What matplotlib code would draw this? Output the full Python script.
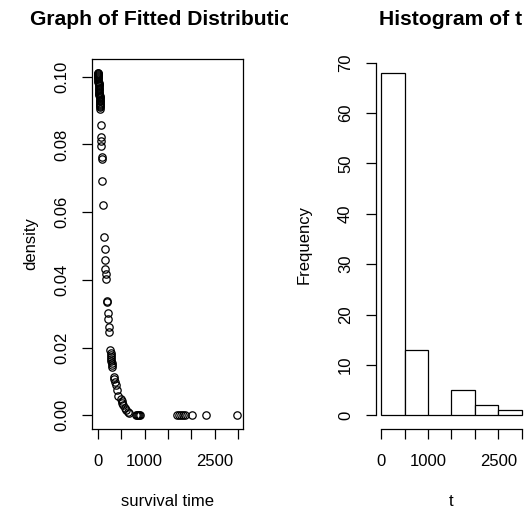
import numpy as np
import matplotlib
matplotlib.use("Agg")
import matplotlib.pyplot as plt
from matplotlib.transforms import Bbox, TransformedBbox

plt.rcParams.update({"font.family": ["Liberation Sans", "DejaVu Sans"],
                     "font.size": 12})

# survival times and fitted density
surv_t = [0, 2, 5, 6, 8, 11, 12, 14, 17, 18, 20, 22, 25, 26, 28, 31, 32,
          35, 37, 38, 40, 43, 44, 46, 48, 50, 51, 53, 54, 56, 57, 58, 60,
          64, 70, 73, 77, 84, 86, 100, 117, 140, 150, 160, 168, 173, 178,
          205, 207, 220, 228, 238, 245, 270, 276, 280, 285, 290, 293, 298,
          303, 310, 348, 355, 368, 385, 410, 445,
          505, 515, 524, 550, 582, 610, 639, 665, 820, 840, 860, 880, 905,
          1700, 1740, 1780, 1820, 1860, 2010, 2300, 2980]
dens = [0.1012, 0.1011, 0.1009, 0.1006, 0.1003, 0.0998, 0.0996, 0.0993,
        0.0988, 0.0986, 0.0983, 0.0979, 0.0975, 0.0972, 0.0968, 0.0963,
        0.0961, 0.0956, 0.0952, 0.0950, 0.0947, 0.0942, 0.0940, 0.0936,
        0.0932, 0.0929, 0.0927, 0.0923, 0.0921, 0.0917, 0.0914, 0.0911,
        0.0905,
        0.0857, 0.0822, 0.0810, 0.0795, 0.0762, 0.0758, 0.0692, 0.0620,
        0.0528, 0.0492, 0.0459, 0.0433, 0.0418, 0.0403, 0.0339, 0.0334,
        0.0301, 0.0285, 0.0260, 0.0245, 0.0194, 0.0185, 0.0178, 0.0171,
        0.0165, 0.0161, 0.0155, 0.0149, 0.0143, 0.0112, 0.0107, 0.0099,
        0.0090, 0.0075, 0.0058,
        0.0048, 0.0042, 0.0035, 0.0029, 0.0023, 0.0017, 0.0010, 0.0008,
        0.0001, 0.0001, 0.0, 0.0, 0.0,
        0.0, 0.0, 0.0, 0.0, 0.0, 0.0, 0.0, 0.0]

# histogram of t
hist_edges = [0, 500, 1000, 1500, 2000, 2500, 3000]
hist_counts = [68, 13, 0, 5, 2, 1]

t_ticks = [0, 500, 1000, 1500, 2000, 2500, 3000]
t_ticklabels = ["0", "", "1000", "", "", "2500", ""]
dens_ticks = [0.00, 0.02, 0.04, 0.06, 0.08, 0.10]
freq_ticks = [0, 10, 20, 30, 40, 50, 60, 70]

W, H = 528, 517
fig = plt.figure(figsize=(W / 100, H / 100), dpi=100)


def rng(lo, hi):
    # R style 4% axis extension
    d = (hi - lo) * 0.04
    return lo - d, hi + d


def style_axis(ax):
    ax.tick_params(direction="out", length=7.2, width=0.9, colors="black",
                   labelsize=12)
    ax.tick_params(axis="x", pad=11)
    ax.tick_params(axis="y", pad=9)
    for lab in ax.get_yticklabels():
        lab.set_rotation(90)
        lab.set_va("center")


# ---------------- left: fitted density ----------------
ax1 = fig.add_axes([92 / W, 1 - 429 / H, 151 / W, 370 / H])
ax1.plot(surv_t, dens, "o", mfc="none", mec="black", ms=5.3, mew=0.9)
ax1.set_xlim(*rng(min(surv_t), max(surv_t)))
ax1.set_ylim(*rng(min(dens), max(dens)))
ax1.set_xticks(t_ticks, t_ticklabels)
ax1.set_yticks(dens_ticks, ["%.2f" % v for v in dens_ticks])
for s in ax1.spines.values():
    s.set_linewidth(0.9)
style_axis(ax1)

ttl = fig.text(167.5 / W, 1 - 25 / H, "Graph of Fitted Distribution",
               ha="center", va="baseline", fontsize=15.2, fontweight="bold")
ttl.set_clip_box(TransformedBbox(Bbox([[0, 0], [288 / W, 1]]), fig.transFigure))
ttl.set_clip_on(True)
fig.text(31 / W, 1 - 244 / H, "density", rotation=90, ha="center", va="center")
fig.text(167.5 / W, 1 - 502 / H, "survival time", ha="center", va="center")

# ---------------- right: histogram ----------------
ax2 = fig.add_axes([375.5 / W, 1 - 429 / H, 151.8 / W, 370 / H])
ax2.bar(hist_edges[:-1], hist_counts, width=np.diff(hist_edges), align="edge",
        facecolor="white", edgecolor="black", linewidth=0.9)
ax2.set_xlim(*rng(hist_edges[0], hist_edges[-1]))
ax2.set_ylim(*rng(0, max(hist_counts)))
ax2.set_xticks(t_ticks, t_ticklabels)
ax2.set_yticks(freq_ticks, [str(v) for v in freq_ticks])
ax2.spines["top"].set_visible(False)
ax2.spines["right"].set_visible(False)
ax2.spines["left"].set_bounds(freq_ticks[0], freq_ticks[-1])
ax2.spines["bottom"].set_bounds(t_ticks[0], t_ticks[-1])
for s in ax2.spines.values():
    s.set_linewidth(0.9)
style_axis(ax2)

fig.text(451 / W, 1 - 25 / H, "Histogram of t", ha="center", va="baseline",
         fontsize=15.2, fontweight="bold")
fig.text(304 / W, 1 - 244 / H, "Frequency", rotation=90, ha="center",
         va="center")
fig.text(451 / W, 1 - 502 / H, "t", ha="center", va="center")

fig.savefig("out.png", dpi=100, facecolor="white")
